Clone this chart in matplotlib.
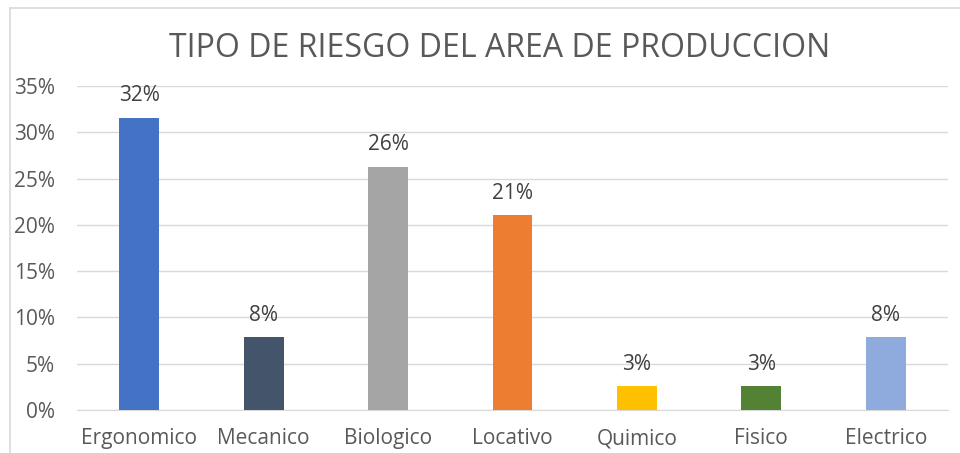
import matplotlib.pyplot as plt
from matplotlib.lines import Line2D
from matplotlib.ticker import PercentFormatter

plt.rcParams['font.family'] = ['Open Sans', 'DejaVu Sans']

categorias = ['Ergonomico', 'Mecanico', 'Biologico', 'Locativo', 'Quimico', 'Fisico', 'Electrico']
valores = [31.6, 7.9, 26.3, 21.1, 2.6, 2.6, 7.9]
etiquetas = ['32%', '8%', '26%', '21%', '3%', '3%', '8%']
colores = ['#4472C4', '#44546A', '#A5A5A5', '#ED7D31', '#FFC000', '#548235', '#8FAADC']

fig = plt.figure(figsize=(9.6, 4.53), dpi=100)
ax = fig.add_axes([0.0802, 0.0949, 0.9073, 0.7151])

x = range(len(categorias))
bars = ax.bar(x, valores, width=0.32, color=colores, zorder=3)

for b, et in zip(bars, etiquetas):
    ax.annotate(et, xy=(b.get_x() + b.get_width() / 2, b.get_height()),
                xytext=(0, 8), textcoords='offset points',
                ha='center', va='bottom', fontsize=15, color='#404040')

ax.set_xlim(-0.5, len(categorias) - 0.5)
ax.set_ylim(0, 35)
ax.set_yticks(range(0, 36, 5))
ax.yaxis.set_major_formatter(PercentFormatter(decimals=0))
ax.set_xticks(list(x))
ax.set_xticklabels(categorias)
ax.tick_params(axis='both', length=0, labelsize=15, labelcolor='#595959')
ax.tick_params(axis='x', pad=13)
ax.tick_params(axis='y', pad=16)
ax.grid(axis='y', color='#D9D9D9', linewidth=1, zorder=0)
for s in ['top', 'right', 'left']:
    ax.spines[s].set_visible(False)
ax.spines['bottom'].set_color('#D9D9D9')

fig.text(0.52, 0.892, 'TIPO DE RIESGO DEL AREA DE PRODUCCION', ha='center', va='center',
         fontsize=23, color='#595959')

# borde del grafico
fig.add_artist(Line2D([9.5 / 960, 9.5 / 960], [0, 1 - 8 / 453], color='#D9D9D9', linewidth=1.2))
fig.add_artist(Line2D([9.5 / 960, 1], [1 - 8 / 453, 1 - 8 / 453], color='#D9D9D9', linewidth=1.2))

fig.savefig('out.png', dpi=100)
